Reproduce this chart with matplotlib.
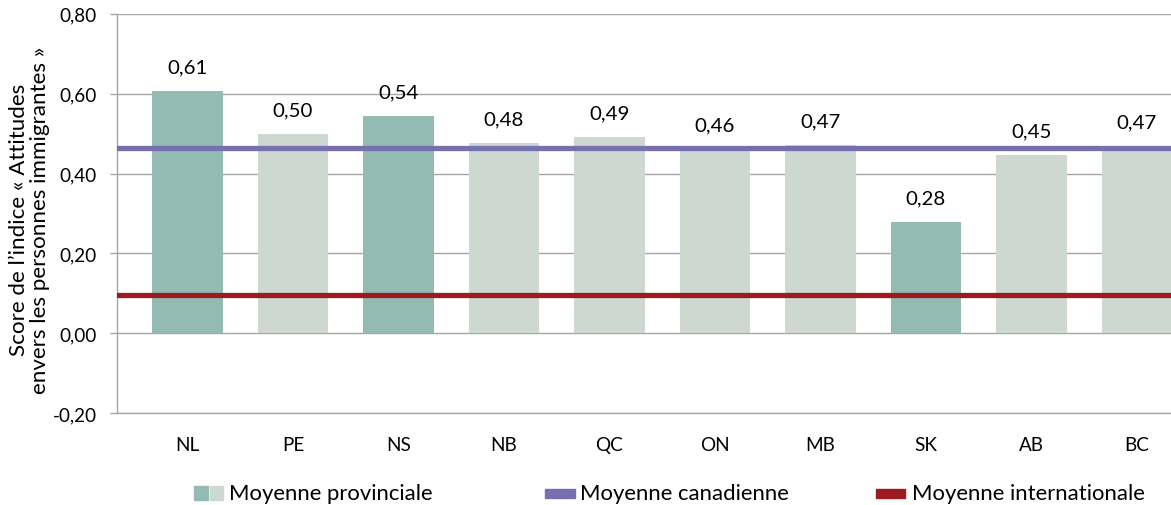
import matplotlib
matplotlib.use("Agg")
import matplotlib.pyplot as plt
from matplotlib.patches import Rectangle
from matplotlib.ticker import FixedLocator

plt.rcParams['font.family'] = ['Lato', 'DejaVu Sans']

provinces = ["NL", "PE", "NS", "NB", "QC", "ON", "MB", "SK", "AB", "BC"]
scores = [0.606, 0.499, 0.544, 0.476, 0.492, 0.462, 0.472, 0.279, 0.447, 0.468]
highlight = [True, False, True, False, False, False, False, True, False, False]
canada_avg = 0.463
intl_avg = 0.097
yticks = [-0.20, 0.00, 0.20, 0.40, 0.60, 0.80]
legend_labels = ["Moyenne provinciale", "Moyenne canadienne", "Moyenne internationale"]
ylabel_lines = ["Score de l\u2019indice \u00ab Attitudes", "envers les personnes immigrantes \u00bb"]

TEAL = "#93BBB3"
LIGHT = "#CDD8D1"
PURPLE = "#7670B0"
RED = "#9B1B20"
GRID = "#A6A6A6"

W, H = 1171, 506
fig = plt.figure(figsize=(W / 100, H / 100), dpi=100)
renderer = fig.canvas.get_renderer()


def fit(text, target_px, base=12):
    t = fig.text(0, 0, text, fontsize=base)
    w = t.get_window_extent(renderer).width
    t.remove()
    return base * target_px / w


def px(xp, yp):
    return xp / W, (H - yp) / H


fs_ytick = fit("0,80", 37)
fs_xtick = fit("NL", 24)
fs_val = fit("0,61", 40)
fs_leg = fit(legend_labels[0], 204)
fs_ylab = 0.5 * (fit(ylabel_lines[0], 270) + fit(ylabel_lines[1], 347))

ax = fig.add_axes([117 / W, (H - 414.3) / H, 1 - 117 / W, (414.3 - 14.7) / H])

x = list(range(len(provinces)))
colors = [TEAL if h else LIGHT for h in highlight]
ax.bar(x, scores, width=0.665, color=colors, zorder=2)

for xi, v in zip(x, scores):
    ax.annotate(f"{v:.2f}".replace(".", ","), (xi, v), xytext=(0, 17.3),
                textcoords="offset points", ha="center", va="center",
                fontsize=fs_val, color="#000000", zorder=4)

ax.axhline(canada_avg, color=PURPLE, lw=3.8, zorder=3)
ax.axhline(intl_avg, color=RED, lw=3.8, zorder=3)

ax.set_xlim(-0.668, (W - 187.5) / 105.5)
ax.set_ylim(-0.20, 0.80)
ax.yaxis.set_major_locator(FixedLocator(yticks))
ax.set_yticklabels([f"{t:.2f}".replace(".", ",") for t in yticks], fontsize=fs_ytick)
ax.set_xticks(x)
ax.set_xticklabels(provinces, fontsize=fs_xtick)
ax.tick_params(axis="x", length=0, pad=16)
ax.tick_params(axis="y", length=5, width=1, color=GRID, pad=9.5)
ax.grid(axis="y", color=GRID, lw=1, zorder=1)
ax.set_axisbelow(True)
for s in ["top", "right"]:
    ax.spines[s].set_visible(False)
for s in ["left", "bottom"]:
    ax.spines[s].set_color(GRID)
    ax.spines[s].set_linewidth(1)

fig.text(*px(29.5, 220), "\n".join(ylabel_lines), fontsize=fs_ylab, rotation=90,
         ha="center", va="center", multialignment="center", linespacing=1.05,
         rotation_mode="anchor")

ly = 494
for x0, c in [(194.5, TEAL), (210, LIGHT)]:
    fig.add_artist(Rectangle(px(x0, ly + 7), 13 / W, 14 / H, color=c, transform=fig.transFigure))
fig.text(*px(229, ly), legend_labels[0], fontsize=fs_leg, va="center", ha="left")
fig.add_artist(Rectangle(px(545, ly + 4.5), 30 / W, 9 / H, color=PURPLE, transform=fig.transFigure))
fig.text(*px(580, ly), legend_labels[1], fontsize=fs_leg, va="center", ha="left")
fig.add_artist(Rectangle(px(876, ly + 4.5), 29 / W, 9 / H, color=RED, transform=fig.transFigure))
fig.text(*px(912, ly), legend_labels[2], fontsize=fs_leg, va="center", ha="left")

fig.savefig("out.png", dpi=100)
